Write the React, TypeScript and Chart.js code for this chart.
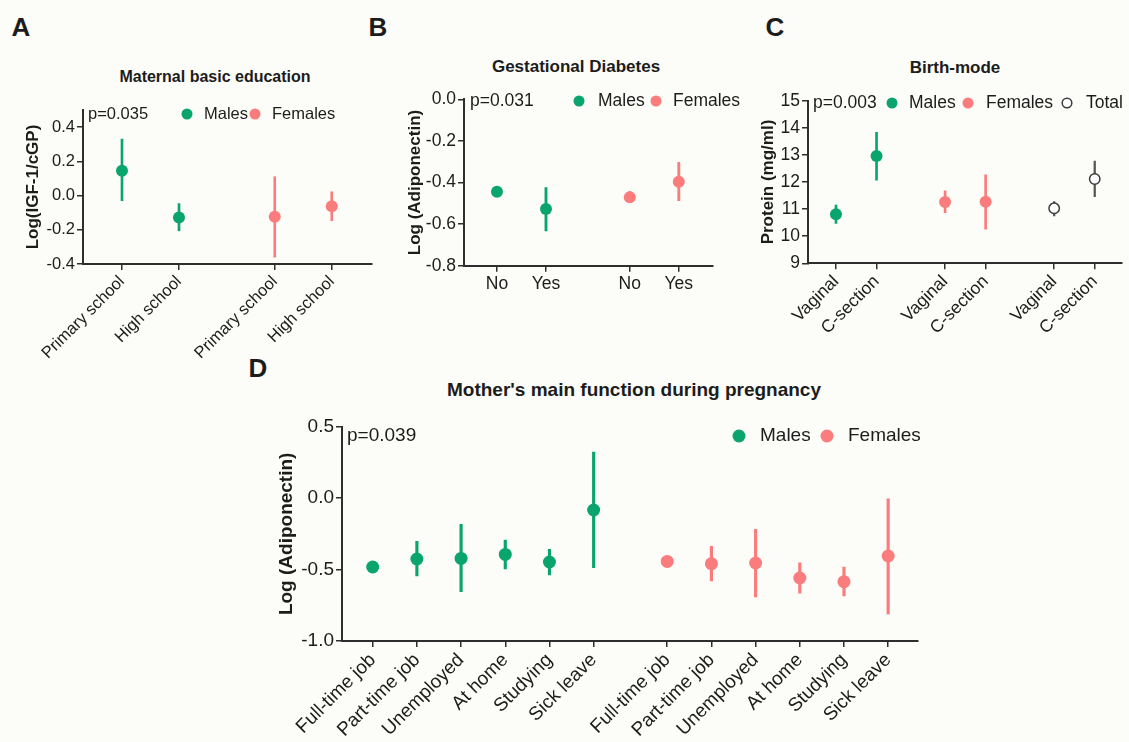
import React, { useEffect, useRef } from "react";
import { Chart, registerables } from "chart.js";

Chart.register(...registerables);

const GREEN = "#0aa56c";
const PINK = "#fb7c7c";
const GREY = "#3c3c3c";
const AXIS = "#2e2e2e";
const TEXT = "#1c1c1c";
const BG = "#fcfcf8";
const FONT = "'Liberation Sans', Arial, Helvetica, sans-serif";

// ---------- Panel A: Maternal basic education ----------
const aCategories = ["Primary school", "High school"];
const aMalesMean = [0.145, -0.128];
const aMalesLow = [-0.03, -0.206];
const aMalesHigh = [0.33, -0.047];
const aFemalesMean = [-0.124, -0.063];
const aFemalesLow = [-0.36, -0.147];
const aFemalesHigh = [0.11, 0.022];
const aYTicks = [-0.4, -0.2, 0.0, 0.2, 0.4];

// ---------- Panel B: Gestational Diabetes ----------
const bCategories = ["No", "Yes"];
const bMalesMean = [-0.444, -0.527];
const bMalesLow = [-0.46, -0.633];
const bMalesHigh = [-0.428, -0.425];
const bFemalesMean = [-0.471, -0.396];
const bFemalesLow = [-0.497, -0.487];
const bFemalesHigh = [-0.444, -0.303];
const bYTicks = [-0.8, -0.6, -0.4, -0.2, 0.0];

// ---------- Panel C: Birth-mode ----------
const cCategories = ["Vaginal", "C-section"];
const cMalesMean = [10.81, 12.96];
const cMalesLow = [10.47, 12.07];
const cMalesHigh = [11.15, 13.83];
const cFemalesMean = [11.26, 11.27];
const cFemalesLow = [10.87, 10.26];
const cFemalesHigh = [11.67, 12.26];
const cTotalMean = [11.03, 12.11];
const cTotalLow = [10.75, 11.46];
const cTotalHigh = [11.28, 12.77];
const cYTicks = [9, 10, 11, 12, 13, 14, 15];

// ---------- Panel D: Mother's main function during pregnancy ----------
const dCategories = ["Full-time job", "Part-time job", "Unemployed", "At home", "Studying", "Sick leave"];
const dMalesMean = [-0.482, -0.426, -0.422, -0.394, -0.447, -0.083];
const dMalesLow = [-0.5, -0.545, -0.655, -0.496, -0.538, -0.487];
const dMalesHigh = [-0.465, -0.302, -0.184, -0.293, -0.358, 0.323];
const dFemalesMean = [-0.443, -0.459, -0.454, -0.559, -0.585, -0.405];
const dFemalesLow = [-0.46, -0.58, -0.692, -0.666, -0.685, -0.811];
const dFemalesHigh = [-0.428, -0.338, -0.219, -0.452, -0.482, 0.0];
const dYTicks = [-1.0, -0.5, 0.0, 0.5];

type Series = {
  label: string;
  mean: number[];
  low: number[];
  high: number[];
  color: string;
  errColor?: string;
  hollow?: boolean;
};

type LegendItem = { label: string; color: string; hollow?: boolean; dotX: number; textX: number };

type PanelSpec = {
  key: string;
  rect: { left: number; top: number; width: number; height: number };
  area: { left: number; top: number; right: number; bottom: number };
  yMin: number;
  yMax: number;
  yTicks: number[];
  yDecimals: number;
  xMin: number;
  xMax: number;
  groupStep: number;
  categories: string[];
  series: Series[];
  fontSize: number;
  yTitle: string;
  yTitleSize: number;
  yTitleCenter: number;
  rotation: number;
  pointRadius: number;
  errWidth: number;
  legendRadius: number;
  pText: string;
  pX: number;
  legendY: number;
  legend: LegendItem[];
};

const panels: PanelSpec[] = [
  {
    key: "A",
    rect: { left: 0, top: 0, width: 380, height: 380 },
    area: { left: 83, top: 110, right: 372, bottom: 264 },
    yMin: -0.4,
    yMax: 0.5,
    yTicks: aYTicks,
    yDecimals: 1,
    xMin: -0.684,
    xMax: 4.386,
    groupStep: 2.68,
    categories: aCategories,
    series: [
      { label: "Males", mean: aMalesMean, low: aMalesLow, high: aMalesHigh, color: GREEN },
      { label: "Females", mean: aFemalesMean, low: aFemalesLow, high: aFemalesHigh, color: PINK },
    ],
    fontSize: 16.5,
    yTitle: "Log(IGF-1/cGP)",
    yTitleSize: 17,
    yTitleCenter: 33,
    rotation: 45,
    pointRadius: 6,
    errWidth: 2,
    legendRadius: 5.5,
    pText: "p=0.035",
    pX: 88,
    legendY: 114,
    legend: [
      { label: "Males", color: GREEN, dotX: 187, textX: 204 },
      { label: "Females", color: PINK, dotX: 255, textX: 272 },
    ],
  },
  {
    key: "B",
    rect: { left: 380, top: 0, width: 375, height: 330 },
    area: { left: 464, top: 99.3, right: 713, bottom: 265.7 },
    yMin: -0.8,
    yMax: 0,
    yTicks: bYTicks,
    yDecimals: 1,
    xMin: -0.673,
    xMax: 4.408,
    groupStep: 2.71,
    categories: bCategories,
    series: [
      { label: "Males", mean: bMalesMean, low: bMalesLow, high: bMalesHigh, color: GREEN },
      { label: "Females", mean: bFemalesMean, low: bFemalesLow, high: bFemalesHigh, color: PINK },
    ],
    fontSize: 17.5,
    yTitle: "Log (Adiponectin)",
    yTitleSize: 17,
    yTitleCenter: 415,
    rotation: 0,
    pointRadius: 6,
    errWidth: 2.2,
    legendRadius: 5.5,
    pText: "p=0.031",
    pX: 470,
    legendY: 101,
    legend: [
      { label: "Males", color: GREEN, dotX: 579, textX: 598 },
      { label: "Females", color: PINK, dotX: 656, textX: 673 },
    ],
  },
  {
    key: "C",
    rect: { left: 740, top: 0, width: 389, height: 380 },
    area: { left: 808, top: 100.7, right: 1129, bottom: 263.3 },
    yMin: 9,
    yMax: 15,
    yTicks: cYTicks,
    yDecimals: 0,
    xMin: -0.69,
    xMax: 7.04,
    groupStep: 2.69,
    categories: cCategories,
    series: [
      { label: "Males", mean: cMalesMean, low: cMalesLow, high: cMalesHigh, color: GREEN },
      { label: "Females", mean: cFemalesMean, low: cFemalesLow, high: cFemalesHigh, color: PINK },
      { label: "Total", mean: cTotalMean, low: cTotalLow, high: cTotalHigh, color: GREY, errColor: "#555555", hollow: true },
    ],
    fontSize: 17.5,
    yTitle: "Protein (mg/ml)",
    yTitleSize: 17,
    yTitleCenter: 768,
    rotation: 45,
    pointRadius: 6,
    errWidth: 2,
    legendRadius: 5.5,
    pText: "p=0.003",
    pX: 813,
    legendY: 103,
    legend: [
      { label: "Males", color: GREEN, dotX: 892, textX: 909 },
      { label: "Females", color: PINK, dotX: 968, textX: 986 },
      { label: "Total", color: GREY, hollow: true, dotX: 1067, textX: 1086 },
    ],
  },
  {
    key: "D",
    rect: { left: 240, top: 340, width: 700, height: 402 },
    area: { left: 342, top: 426.7, right: 918, bottom: 641 },
    yMin: -1,
    yMax: 0.5,
    yTicks: dYTicks,
    yDecimals: 1,
    xMin: -0.695,
    xMax: 12.34,
    groupStep: 6.665,
    categories: dCategories,
    series: [
      { label: "Males", mean: dMalesMean, low: dMalesLow, high: dMalesHigh, color: GREEN },
      { label: "Females", mean: dFemalesMean, low: dFemalesLow, high: dFemalesHigh, color: PINK },
    ],
    fontSize: 19,
    yTitle: "Log (Adiponectin)",
    yTitleSize: 19,
    yTitleCenter: 287,
    rotation: 45,
    pointRadius: 6.5,
    errWidth: 2.5,
    legendRadius: 6.5,
    pText: "p=0.039",
    pX: 347,
    legendY: 436,
    legend: [
      { label: "Males", color: GREEN, dotX: 739, textX: 760 },
      { label: "Females", color: PINK, dotX: 827, textX: 848 },
    ],
  },
];

const titles = [
  { text: "Maternal basic education", x: 215, y: 77, size: 16 },
  { text: "Gestational Diabetes", x: 576, y: 66, size: 17 },
  { text: "Birth-mode", x: 955, y: 67, size: 17 },
  { text: "Mother's main function during pregnancy", x: 634, y: 389, size: 19 },
];

const letters = [
  { text: "A", x: 21, y: 27 },
  { text: "B", x: 378, y: 27 },
  { text: "C", x: 775, y: 27 },
  { text: "D", x: 258, y: 368 },
];

function PanelChart({ spec }: { spec: PanelSpec }) {
  const ref = useRef<HTMLCanvasElement | null>(null);

  useEffect(() => {
    const s = spec;
    const canvas = ref.current;
    if (!canvas) return;

    const xTicks: number[] = [];
    const xLabels: string[] = [];
    const datasets: any[] = [];

    s.series.forEach((ser, si) => {
      const xs = ser.mean.map((_, i) => si * s.groupStep + i);
      xs.forEach((x, i) => {
        xTicks.push(x);
        xLabels.push(s.categories[i]);
      });
      datasets.push({
        type: "bar",
        label: ser.label + " error",
        data: xs.map((x, i) => ({ x, y: [ser.low[i], ser.high[i]] })),
        backgroundColor: ser.errColor ?? ser.color,
        barThickness: ser.hollow ? 1.6 : s.errWidth,
        grouped: false,
        borderWidth: 0,
        borderSkipped: false,
        order: 2,
      });
      datasets.push({
        type: "scatter",
        label: ser.label,
        data: xs.map((x, i) => ({ x, y: ser.mean[i] })),
        pointRadius: ser.hollow ? s.pointRadius - 0.8 : s.pointRadius,
        pointBackgroundColor: ser.hollow ? "#ffffff" : ser.color,
        pointBorderColor: ser.color,
        pointBorderWidth: ser.hollow ? 1.5 : 0,
        pointHoverRadius: s.pointRadius,
        showLine: false,
        order: 1,
      });
    });

    const annot = {
      id: "annot" + s.key,
      afterDraw(chart: any) {
        const ctx = chart.ctx as CanvasRenderingContext2D;
        ctx.save();
        ctx.font = `${s.fontSize}px ${FONT}`;
        ctx.fillStyle = TEXT;
        ctx.textBaseline = "middle";
        ctx.textAlign = "left";
        const oy = s.legendY - s.rect.top;
        ctx.fillText(s.pText, s.pX - s.rect.left, oy);
        s.legend.forEach((it) => {
          const cx = it.dotX - s.rect.left;
          ctx.beginPath();
          ctx.arc(cx, oy, it.hollow ? s.legendRadius - 0.7 : s.legendRadius, 0, Math.PI * 2);
          if (it.hollow) {
            ctx.fillStyle = "#ffffff";
            ctx.fill();
            ctx.lineWidth = 1.5;
            ctx.strokeStyle = it.color;
            ctx.stroke();
          } else {
            ctx.fillStyle = it.color;
            ctx.fill();
          }
          ctx.fillStyle = TEXT;
          ctx.fillText(it.label, it.textX - s.rect.left, oy);
        });
        ctx.restore();
      },
    };

    const axisGrid = {
      display: true,
      drawOnChartArea: false,
      drawTicks: true,
      tickLength: 6,
      color: AXIS,
      lineWidth: 1.5,
      offset: false,
    };
    const axisBorder = { display: true, color: AXIS, width: 2 };

    const chart = new Chart(canvas, {
      type: "scatter",
      data: { datasets },
      plugins: [annot],
      options: {
        responsive: false,
        animation: false,
        events: [],
        layout: {
          padding: {
            left: 0,
            top: s.area.top - s.rect.top,
            right: s.rect.left + s.rect.width - s.area.right,
            bottom: 0,
          },
        },
        plugins: {
          legend: { display: false },
          tooltip: { enabled: false },
          title: { display: false },
        },
        scales: {
          x: {
            type: "linear",
            min: s.xMin,
            max: s.xMax,
            offset: false,
            afterBuildTicks: (sc: any) => {
              sc.ticks = xTicks.map((v) => ({ value: v }));
            },
            afterFit: (sc: any) => {
              sc.height = s.rect.top + s.rect.height - s.area.bottom;
            },
            ticks: {
              autoSkip: false,
              minRotation: s.rotation,
              maxRotation: s.rotation,
              padding: 2,
              color: TEXT,
              font: { size: s.fontSize, family: FONT },
              callback: (_v: any, i: number) => xLabels[i] ?? "",
            },
            grid: axisGrid,
            border: axisBorder,
          },
          y: {
            type: "linear",
            min: s.yMin,
            max: s.yMax,
            afterBuildTicks: (sc: any) => {
              sc.ticks = s.yTicks.map((v) => ({ value: v }));
            },
            afterFit: (sc: any) => {
              sc.width = s.area.left - s.rect.left;
            },
            ticks: {
              padding: 2,
              color: TEXT,
              font: { size: s.fontSize, family: FONT },
              callback: (v: any) => Number(v).toFixed(s.yDecimals),
            },
            grid: axisGrid,
            border: axisBorder,
            title: {
              display: true,
              text: s.yTitle,
              color: TEXT,
              font: { size: s.yTitleSize, family: FONT, weight: "bold" },
              padding: { top: s.yTitleCenter - s.rect.left - 0.6 * s.yTitleSize, bottom: 0 },
            },
          },
        },
      } as any,
    } as any);

    return () => {
      chart.destroy();
    };
  }, [spec]);

  return (
    <canvas
      ref={ref}
      width={spec.rect.width}
      height={spec.rect.height}
      style={{
        position: "absolute",
        left: spec.rect.left,
        top: spec.rect.top,
        width: spec.rect.width,
        height: spec.rect.height,
      }}
    />
  );
}

export default function App() {
  return (
    <div
      style={{
        position: "absolute",
        left: 0,
        top: 0,
        width: 1129,
        height: 742,
        background: BG,
        overflow: "hidden",
        fontFamily: FONT,
        color: TEXT,
      }}
    >
      {letters.map((l) => (
        <div
          key={l.text}
          style={{
            position: "absolute",
            left: l.x,
            top: l.y,
            transform: "translate(-50%, -50%)",
            fontSize: 26,
            fontWeight: "bold",
            lineHeight: 1,
            whiteSpace: "nowrap",
          }}
        >
          {l.text}
        </div>
      ))}
      {titles.map((t) => (
        <div
          key={t.text}
          style={{
            position: "absolute",
            left: t.x,
            top: t.y,
            transform: "translate(-50%, -50%)",
            fontSize: t.size,
            fontWeight: "bold",
            lineHeight: 1,
            whiteSpace: "nowrap",
          }}
        >
          {t.text}
        </div>
      ))}
      {panels.map((p) => (
        <PanelChart key={p.key} spec={p} />
      ))}
    </div>
  );
}
